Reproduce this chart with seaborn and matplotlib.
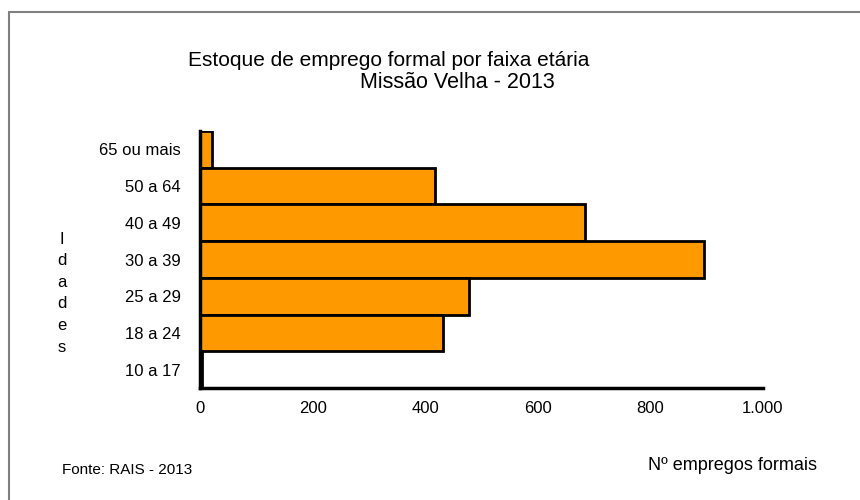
import matplotlib.pyplot as plt
import matplotlib.ticker as mticker
from matplotlib.lines import Line2D
import seaborn as sns
import pandas as pd
import numpy as np

faixas = ['65 ou mais', '50 a 64', '40 a 49', '30 a 39', '25 a 29', '18 a 24', '10 a 17']
empregos = [21, 417, 684, 895, 477, 431, 4]
x_ticks = [0, 200, 400, 600, 800, 1000]

df = pd.DataFrame({'faixa': faixas, 'empregos': empregos})

sns.set_style('white')
plt.rcParams['font.family'] = ['Liberation Sans', 'DejaVu Sans']
plt.rcParams['text.color'] = 'black'
plt.rcParams['xtick.labelcolor'] = 'black'
plt.rcParams['ytick.labelcolor'] = 'black'

fig = plt.figure(figsize=(8.6, 5), dpi=100)
ax = fig.add_axes([0.2326, 0.224, 0.8872 - 0.2326, 0.738 - 0.224])

sns.barplot(data=df, x='empregos', y='faixa', order=faixas, orient='h',
            color='#FF9900', saturation=1, width=1.0,
            edgecolor='black', linewidth=2, ax=ax)

ax.set_xlim(0, 1000)
ax.set_ylim(len(faixas) - 0.5, -0.5)
ax.set_xticks(x_ticks)
ax.xaxis.set_major_formatter(mticker.FuncFormatter(
    lambda v, p: f'{int(v):,}'.replace(',', '.')))
ax.set_yticks(range(len(faixas)))
ax.set_yticklabels(faixas)
ax.set_yticks(np.arange(-0.5, len(faixas)), minor=True)
ax.tick_params(axis='y', which='major', length=0, labelsize=12, pad=14)
ax.tick_params(axis='y', which='minor', length=8, width=2, direction='inout', color='black')
ax.tick_params(axis='x', length=7, width=2, direction='inout', labelsize=12, pad=6, color='black')
ax.set_xlabel('')
ax.set_ylabel('')

for side in ['top', 'right']:
    ax.spines[side].set_visible(False)
for side in ['left', 'bottom']:
    ax.spines[side].set_linewidth(2.5)
    ax.spines[side].set_color('black')

fig.text(389 / 860, 1 - 60 / 500, 'Estoque de emprego formal por faixa etária',
         ha='center', va='center', fontsize=15)
fig.text(457 / 860, 1 - 82 / 500, 'Missão Velha - 2013',
         ha='center', va='center', fontsize=15.5)
fig.text(62 / 860, 1 - 293 / 500, 'I\nd\na\nd\ne\ns', ha='center', va='center',
         fontsize=12, linespacing=1.55)
fig.text(62 / 860, 1 - 470 / 500, 'Fonte: RAIS - 2013', ha='left', va='center',
         fontsize=11)
fig.text(732 / 860, 1 - 466 / 500, 'Nº empregos formais', ha='center', va='center',
         fontsize=13)

# moldura do grafico
fig.add_artist(Line2D([9 / 860, 9 / 860], [0, 1 - 12 / 500], color='#808080', lw=1.5))
fig.add_artist(Line2D([9 / 860, 1], [1 - 12 / 500, 1 - 12 / 500], color='#808080', lw=1.5))

fig.savefig('out.png', dpi=100)
plt.close(fig)
